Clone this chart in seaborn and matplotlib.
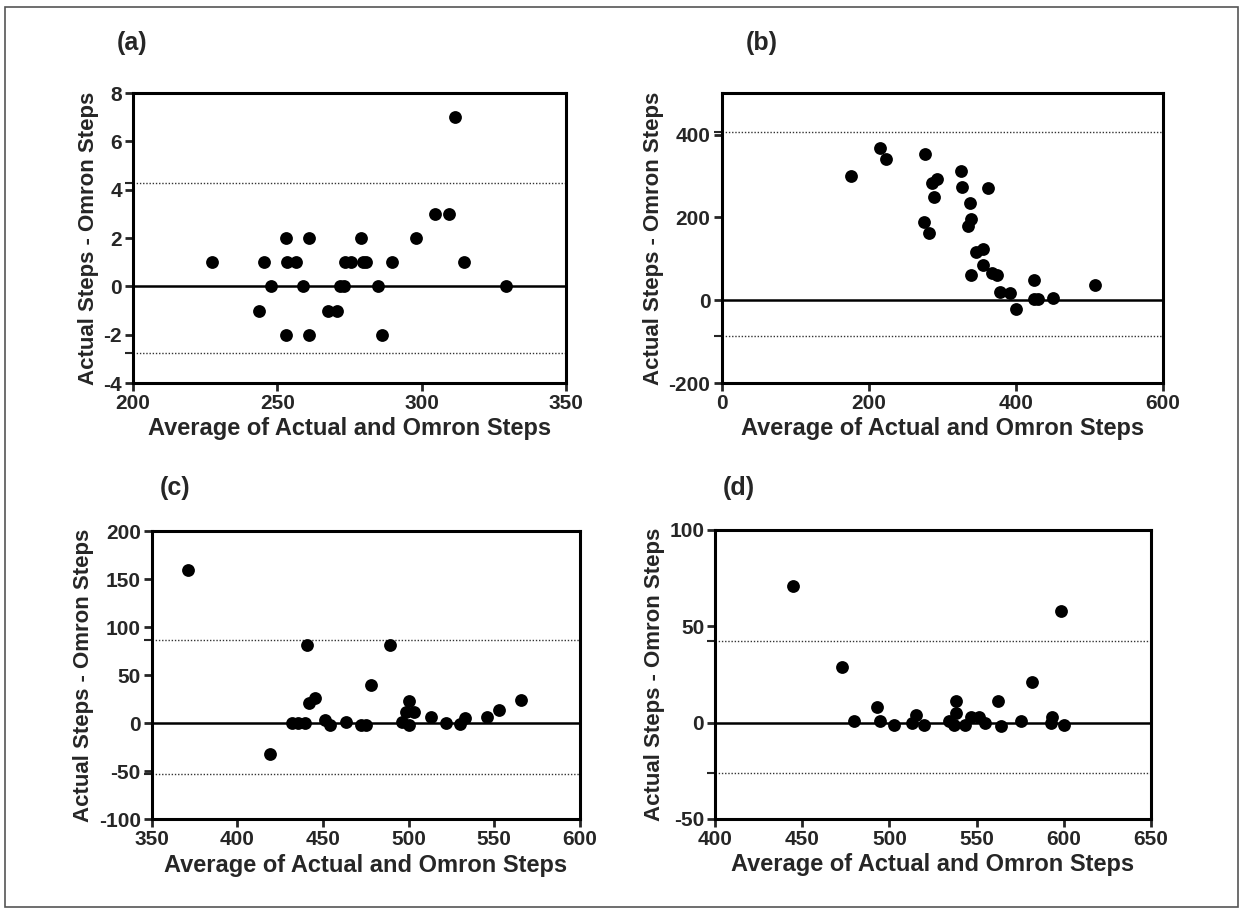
import matplotlib
matplotlib.use("Agg")
import matplotlib.pyplot as plt
import seaborn as sns
from matplotlib.patches import Rectangle

# (a) diferencas e medias
a_mean = [227.4, 245.3, 253.3, 256.5, 273.5, 275.5, 279.6, 280.6, 289.6, 314.6,
          253.1, 260.9, 279.0, 298.1, 304.5, 309.5, 311.7,
          247.9, 259.0, 271.8, 273.2, 285.0, 329.1,
          243.5, 267.5, 270.6, 253.1, 260.9, 286.1]
a_diff = [1, 1, 1, 1, 1, 1, 1, 1, 1, 1,
          2, 2, 2, 2, 3, 3, 7,
          0, 0, 0, 0, 0, 0,
          -1, -1, -1, -2, -2, -2]
a_loa = [4.29, -2.77]

# (b)
b_mean = [175.9, 215.2, 223.3, 276.0, 286.4, 293.2, 288.7, 275.1, 282.4, 325.7,
          326.1, 361.7, 337.4, 339.2, 334.7, 346.4, 355.5, 355.5, 338.3, 367.6,
          374.4, 378.0, 392.4, 400.5, 424.0, 424.0, 429.4, 450.2, 507.4]
b_diff = [300, 368, 342, 354, 282, 292, 248, 188, 162, 312,
          274, 270, 234, 196, 178, 116, 124, 84, 60, 66,
          60, 20, 18, -21, 48, 4, 2, 6, 36]
b_loa = [405, -86]

# (c)
c_mean = [371.4, 419.0, 432.2, 435.5, 439.4, 440.4, 441.9, 445.3, 451.4, 454.3,
          463.5, 472.0, 475.3, 478.2, 489.0, 495.9, 498.8, 500.2, 503.4, 500.2,
          513.1, 521.8, 530.2, 533.1, 545.9, 552.8, 565.5]
c_diff = [159, -32, 0, 0, 0, 81.5, 21, 26, 3, -2,
          1, -2, -2, 40, 81, 1, 12, 23.5, 11.5, -1.5,
          6, 0.5, -0.5, 5.5, 6, 14, 24]
c_loa = [87, -53]

# (d)
d_mean = [444.8, 472.8, 479.7, 493.1, 494.8, 502.6, 513.1, 515.0, 519.6, 534.0,
          538.3, 538.3, 537.3, 543.4, 546.9, 551.6, 555.1, 562.5, 564.0, 575.5,
          582.1, 593.2, 592.6, 600.2, 598.5]
d_diff = [71, 29, 1, 8, 1, -1, 0, 4, -1, 1,
          11, 5, -1, -1, 3, 3, 0, 11, -2, 1,
          21, 3, 0, -1, 58]
d_loa = [42.4, -26.3]

sns.set_style("white")
plt.rcParams['font.family'] = ['Liberation Sans', 'DejaVu Sans']
plt.rcParams['font.weight'] = 'bold'
plt.rcParams['axes.unicode_minus'] = False

fig = plt.figure(figsize=(12.44, 9.13), dpi=100)

paineis = [
    ("(a)", a_mean, a_diff, a_loa, [0.107, 0.5805, 0.348, 0.3175], (200, 350), [200, 250, 300, 350], (-4, 8), [-4, -2, 0, 2, 4, 6, 8], (0.106, 0.953)),
    ("(b)", b_mean, b_diff, b_loa, [0.580, 0.5805, 0.355, 0.3175], (0, 600), [0, 200, 400, 600], (-200, 500), [-200, 0, 200, 400], (0.612, 0.953)),
    ("(c)", c_mean, c_diff, c_loa, [0.122, 0.1026, 0.344, 0.3158], (350, 600), [350, 400, 450, 500, 550, 600], (-100, 200), [-100, -50, 0, 50, 100, 150, 200], (0.141, 0.465)),
    ("(d)", d_mean, d_diff, d_loa, [0.575, 0.103, 0.350, 0.3165], (400, 650), [400, 450, 500, 550, 600, 650], (-50, 100), [-50, 0, 50, 100], (0.594, 0.465)),
]

for nome, xm, yd, loa, pos, xlim, xt, ylim, yt, lab in paineis:
    ax = fig.add_axes(pos)
    ax.axhline(0, color='black', lw=1.8, zorder=1)
    for v in loa:
        ax.axhline(v, color='#333333', lw=1.0, ls=(0, (1, 1.3)), zorder=1)
    sns.scatterplot(x=xm, y=yd, ax=ax, color='black', s=85, linewidth=0, zorder=3)
    ax.set_xlim(*xlim)
    ax.set_ylim(*ylim)
    ax.set_xticks(xt)
    ax.set_yticks(yt)
    ax.set_yticks(loa, minor=True)
    ax.tick_params(which='both', direction='out', length=6, width=2, labelsize=15,
                   left=True, bottom=True, top=False, right=False, pad=2)
    ax.tick_params(which='minor', width=1.5)
    for s in ax.spines.values():
        s.set_linewidth(2.2)
        s.set_color('black')
    for t in ax.get_xticklabels() + ax.get_yticklabels():
        t.set_fontweight('bold')
    ax.set_xlabel("Average of Actual and Omron Steps", fontsize=17, fontweight='bold', labelpad=3)
    ax.set_ylabel("Actual Steps - Omron Steps", fontsize=16, fontweight='bold', labelpad=3)
    fig.text(lab[0], lab[1], nome, fontsize=18, fontweight='bold', ha='center', va='center')

# moldura externa
fig.patches.append(Rectangle((0.004, 0.007), 0.991, 0.985, transform=fig.transFigure,
                             fill=False, edgecolor='#555555', lw=1.2))

plt.savefig("out.png", dpi=100)
